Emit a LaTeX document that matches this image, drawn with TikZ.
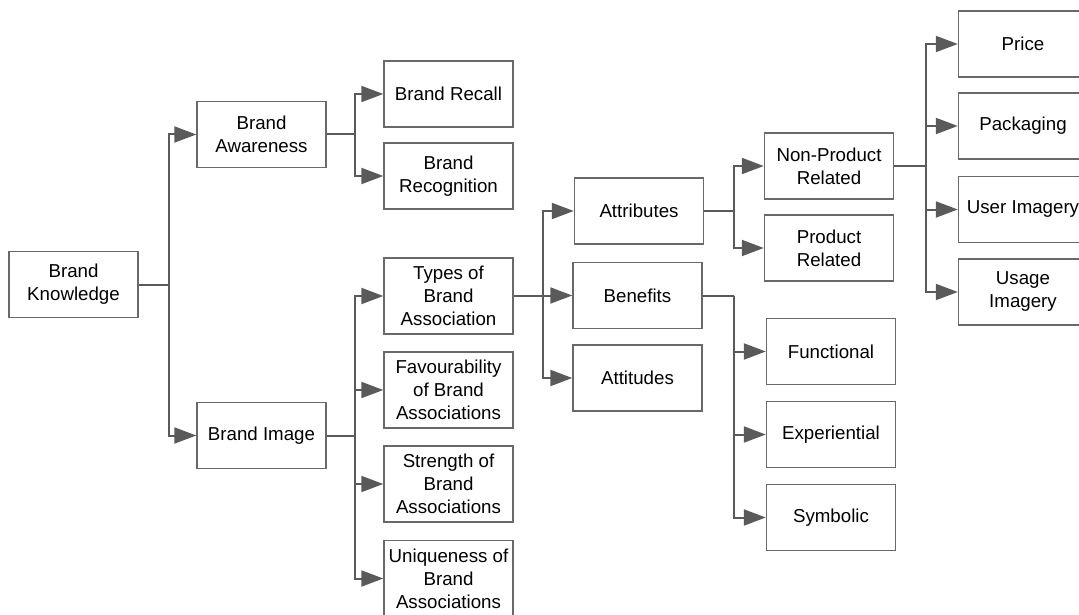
\documentclass[tikz,border=0pt]{standalone}
\usepackage{fontspec}
\setmainfont{Liberation Sans}
\usepackage{tikz}
\usetikzlibrary{arrows.meta}
\definecolor{boxgray}{RGB}{105,105,105}
\definecolor{linegray}{RGB}{90,90,90}
\tikzstyle{box} = [rectangle, minimum width=129pt, minimum height=66pt, inner sep=3pt, align=center, draw=boxgray, line width=1.4pt, text=black]
\tikzstyle{tallbox} = [box, minimum height=76pt]
\tikzstyle{link} = [draw=linegray, line width=2pt]
\tikzstyle{arrow} = [link, -{Triangle[length=22pt, width=16pt]}]

\begin{document}
\begin{tikzpicture}[x=1pt, y=-1pt, font=\fontsize{18.7}{23}\selectfont]

    \clip (0,0) rectangle (1079,615);

    % Nodes
    \node (know) [box] at (73.5,284.5) {Brand\\Knowledge};
    \node (aware) [box] at (261.5,134.5) {Brand\\Awareness};
    \node (image) [box] at (261.5,435.5) {Brand Image};

    \node (recall) [box] at (448.5,94) {Brand Recall};
    \node (recog) [box] at (448.5,176) {Brand\\Recognition};

    \node (types) [tallbox] at (448.5,296) {Types of\\Brand\\Association};
    \node (fav) [tallbox] at (448.5,390) {Favourability\\of Brand\\Associations};
    \node (strength) [tallbox] at (448.5,484) {Strength of\\Brand\\Associations};
    \node (unique) [tallbox] at (448.5,578.5) {Uniqueness of\\Brand\\Associations};

    \node (attr) [box] at (639,211) {Attributes};
    \node (benef) [box] at (637.5,295.5) {Benefits};
    \node (attit) [box] at (637.5,378) {Attitudes};

    \node (nonprod) [box] at (829,166) {Non-Product\\Related};
    \node (prod) [box] at (829,248) {Product\\Related};

    \node (func) [box] at (831,351.5) {Functional};
    \node (exper) [box] at (831,434.5) {Experiential};
    \node (symb) [box] at (831,517.5) {Symbolic};

    \node (price) [box] at (1023,44) {Price};
    \node (pack) [box] at (1023,126) {Packaging};
    \node (user) [box] at (1023,209.5) {User Imagery};
    \node (usage) [box] at (1023,292) {Usage\\Imagery};

    % Brand Knowledge
    \draw [link] (know.east) -- ++(30,0) coordinate (jk);
    \draw [arrow] (jk) |- (aware.west);
    \draw [arrow] (jk) |- (image.west);

    % Brand Awareness
    \draw [link] (aware.east) -- ++(28,0) coordinate (ja);
    \draw [arrow] (ja) |- (recall.west);
    \draw [arrow] (ja) |- (recog.west);

    % Brand Image
    \draw [link] (image.east) -- ++(28,0) coordinate (ji);
    \draw [arrow] (ji) |- (types.west);
    \draw [arrow] (ji) |- (fav.west);
    \draw [arrow] (ji) |- (strength.west);
    \draw [arrow] (ji) |- (unique.west);

    % Types of Brand Association
    \draw [link] (types.east) -- ++(29,0) coordinate (jt);
    \draw [arrow] (jt) |- (attr.west);
    \draw [arrow] (jt) |- (benef.west);
    \draw [arrow] (jt) |- (attit.west);

    % Attributes
    \draw [link] (attr.east) -- ++(30,0) coordinate (jat);
    \draw [arrow] (jat) |- (nonprod.west);
    \draw [arrow] (jat) |- (prod.west);

    % Benefits
    \draw [link] (benef.east) -- ++(31,0) coordinate (jb);
    \draw [arrow] (jb) |- (func.west);
    \draw [arrow] (jb) |- (exper.west);
    \draw [arrow] (jb) |- (symb.west);

    % Non-Product Related
    \draw [link] (nonprod.east) -- ++(32,0) coordinate (jn);
    \draw [arrow] (jn) |- (price.west);
    \draw [arrow] (jn) |- (pack.west);
    \draw [arrow] (jn) |- (user.west);
    \draw [arrow] (jn) |- (usage.west);

\end{tikzpicture}
\end{document}
